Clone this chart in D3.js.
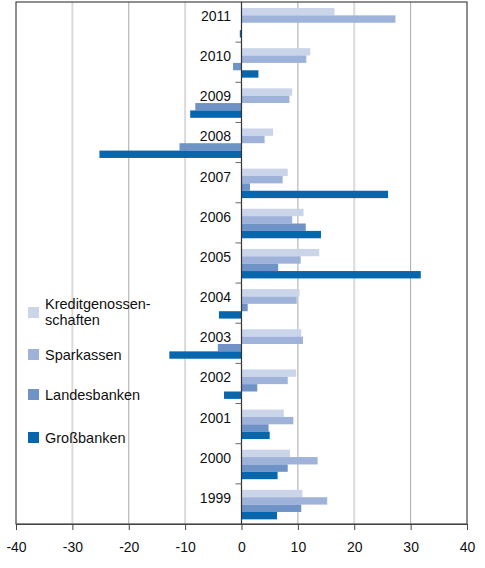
<!DOCTYPE html>
<html>
<head>
<meta charset="utf-8">
<script src="https://cdn.jsdelivr.net/npm/d3@7"></script>
<style>
  body { margin: 0; background: #fff; }
  text { font-family: "Liberation Sans", Arial, sans-serif; fill: #111; }
</style>
</head>
<body>
<div class="container"></div>
<script>
const w = 485, h = 568;
const margin = { top: 2, bottom: 44, left: 16, right: 18 };

const years = [2011, 2010, 2009, 2008, 2007, 2006, 2005, 2004, 2003, 2002, 2001, 2000, 1999];
const series = ["Kreditgenossen-schaften", "Sparkassen", "Landesbanken", "Großbanken"];
const colors = ["#cbd5ea", "#9fb2d9", "#7093c7", "#0866ad"];

// values per year, same order as years
const kredit = [16.5, 12.2, 9.0, 5.6, 8.2, 11.0, 13.8, 10.3, 10.6, 9.7, 7.5, 8.6, 10.8];
const spark  = [27.3, 11.5, 8.5, 4.1, 7.3, 9.0, 10.5, 9.8, 10.9, 8.2, 9.2, 13.5, 15.2];
const landes = [0.0, -1.5, -8.2, -11.0, 1.5, 11.4, 6.5, 1.1, -4.2, 2.8, 4.8, 8.2, 10.6];
const gross  = [-0.3, 3.0, -9.1, -25.2, 26.0, 14.1, 31.8, -4.0, -12.8, -3.1, 5.0, 6.4, 6.3];
const xTicks = [-40, -30, -20, -10, 0, 10, 20, 30, 40];

const values = [kredit, spark, landes, gross];
const rows = [];
years.forEach((y, i) => series.forEach((s, j) => rows.push({ year: y, key: s, idx: j, value: values[j][i] })));

const x = d3.scaleLinear().domain([-40, 40]).range([margin.left, w - margin.right]);
const y = d3.scaleBand().domain(years).range([margin.top, h - margin.bottom]);
const yInner = d3.scaleBand().domain(d3.range(4)).range([6, 35.5]);

const svg = d3.select(".container").append("svg")
  .attr("width", w).attr("height", h)
  .attr("viewBox", [0, 0, w, h]);

// grid
const lightGrid = new Set([-30, -10, 20]);
svg.append("g").selectAll("line")
  .data(xTicks.filter(d => d !== 0 && Math.abs(d) !== 40))
  .join("line")
  .attr("x1", d => x(d)).attr("x2", d => x(d))
  .attr("y1", margin.top).attr("y2", h - margin.bottom)
  .attr("stroke", d => lightGrid.has(d) ? "#dadada" : "#a8a8a8")
  .attr("stroke-width", d => lightGrid.has(d) ? 2 : 1);

// bars
svg.append("g").selectAll("rect")
  .data(rows)
  .join("rect")
  .attr("x", d => x(Math.min(0, d.value)))
  .attr("width", d => Math.abs(x(d.value) - x(0)))
  .attr("y", d => y(d.year) + yInner(d.idx))
  .attr("height", yInner.bandwidth())
  .attr("fill", d => colors[d.idx]);

// frame
svg.append("rect")
  .attr("x", x(-40)).attr("y", margin.top)
  .attr("width", x(40) - x(-40)).attr("height", h - margin.bottom - margin.top)
  .attr("fill", "none").attr("stroke", "#444").attr("stroke-width", 1.2);

// zero axis with year ticks
const zero = svg.append("g").attr("transform", `translate(${x(0)},0)`);
zero.append("line")
  .attr("y1", margin.top).attr("y2", h - margin.bottom)
  .attr("stroke", "#333").attr("stroke-width", 1.2);
zero.selectAll("line.t")
  .data(years.slice(1))
  .join("line").attr("class", "t")
  .attr("x1", -6).attr("x2", 0)
  .attr("y1", d => y(d)).attr("y2", d => y(d))
  .attr("stroke", "#666");

// year labels
svg.append("g").selectAll("text")
  .data(years)
  .join("text")
  .attr("x", 231)
  .attr("y", d => y(d) + 19)
  .attr("text-anchor", "end")
  .style("font-size", "14px")
  .text(d => d);

// x axis
const xAxis = svg.append("g")
  .attr("transform", `translate(0,${h - margin.bottom})`)
  .call(d3.axisBottom(x).tickValues(xTicks).tickSize(6).tickPadding(12).tickFormat(d => String(d)));
xAxis.select(".domain").attr("stroke", "#444");
xAxis.selectAll(".tick line").attr("stroke", "#444");
xAxis.selectAll(".tick text")
  .style("font-size", "14px")
  .style("font-family", "'Liberation Sans', Arial, sans-serif")
  .attr("fill", "#111");

// legend
const legendY = [307, 349, 389, 432];
const leg = svg.append("g").selectAll("g")
  .data(series)
  .join("g")
  .attr("transform", (d, i) => `translate(28,${legendY[i]})`);
leg.append("rect")
  .attr("width", 11).attr("height", 11)
  .attr("fill", (d, i) => colors[i]);
leg.append("text")
  .attr("x", 17)
  .style("font-size", "14.5px")
  .each(function (d) {
    const parts = d.includes("-") ? [d.split("-")[0] + "-", d.split("-")[1]] : [d];
    const t = d3.select(this);
    if (parts.length === 2) {
      t.append("tspan").attr("x", 17).attr("y", 2).text(parts[0]);
      t.append("tspan").attr("x", 17).attr("y", 18).text(parts[1]);
    } else {
      t.append("tspan").attr("x", 17).attr("y", 11).text(parts[0]);
    }
  });
</script>
</body>
</html>
